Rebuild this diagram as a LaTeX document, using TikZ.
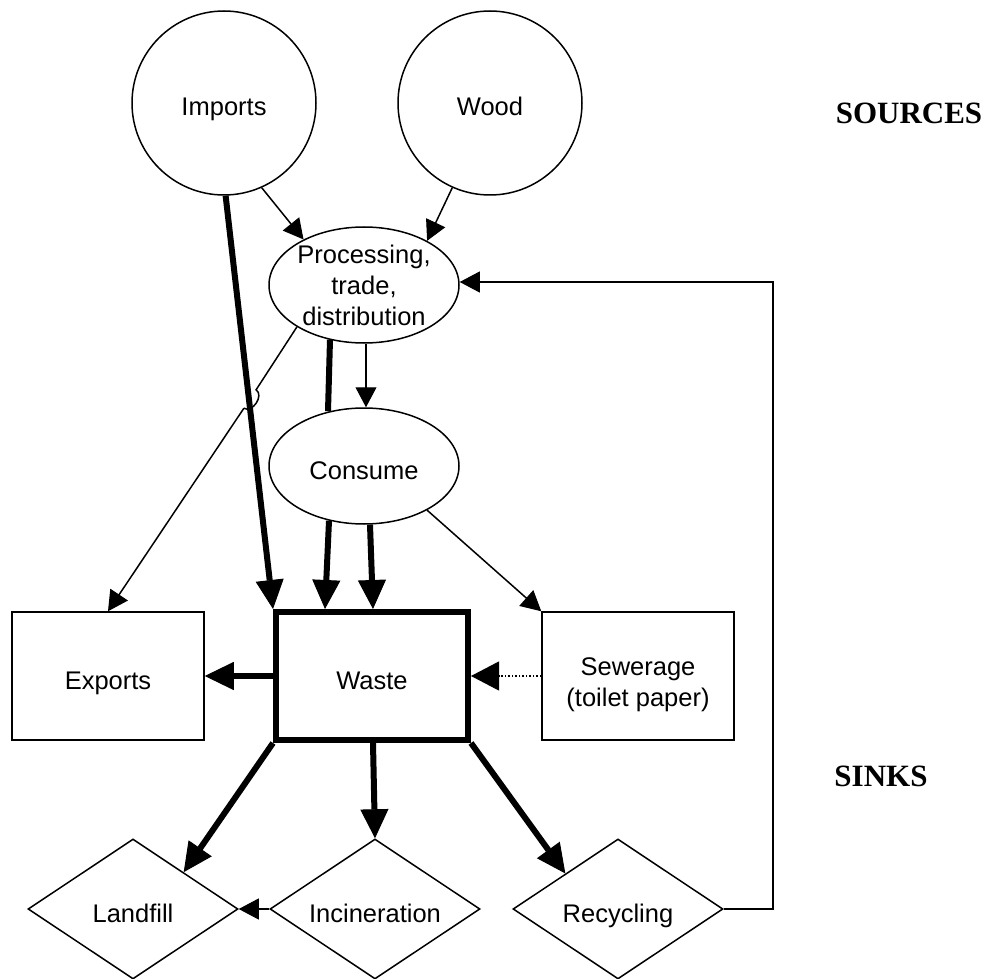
\documentclass[tikz,border=0pt]{standalone}
\usepackage{fontspec}
\setmainfont{Liberation Sans}
\newfontfamily\timesfont{Liberation Serif}
\usetikzlibrary{shapes.geometric,arrows.meta,calc}
\begin{document}
\begin{tikzpicture}[x=1pt,y=-1pt,
  every node/.style={font=\fontsize{25.5}{31}\selectfont, align=center, inner sep=0pt},
  one/.style={text height=31pt, text depth=5pt},
  box/.style={draw, line width=1.5pt, minimum width=192pt, minimum height=128pt},
  src/.style={draw, circle, line width=1.5pt, minimum size=184pt, one},
  ell/.style={draw, ellipse, line width=1.5pt, minimum width=190pt, minimum height=116pt},
  dia/.style={draw, diamond, shape aspect=1.5, line width=1.5pt, minimum width=210pt, minimum height=140pt, one},
  thinarr/.style={line width=1.5pt, -{Triangle[length=20pt,width=21pt,line width=1pt]}},
  thickarr/.style={line width=6pt, -{Triangle[length=29pt,width=28pt,line width=1pt]}},
  thickline/.style={line width=6pt},
  thinline/.style={line width=1.5pt},
  dotarr/.style={line width=1.5pt, dash pattern=on 1.5pt off 2pt, -{Triangle[length=28pt,width=29pt,line width=1pt]}},
  lbl/.style={font=\timesfont\bfseries\fontsize{31}{36}\selectfont}
]
\useasboundingbox (0,0) rectangle (989,979);

% nodes
\node[src] (imports) at (224,103) {Imports};
\node[src] (wood) at (490,103) {Wood};
\node[lbl] (sources) at (909,113) {SOURCES};
\node[ell] (proc) at (364,285) {Processing,\\trade,\\distribution};
\node[ell, one] (cons) at (364,466) {Consume};
\node[box, one] (exports) at (108,676) {Exports};
\node[box, one, line width=6pt] (waste) at (372,676) {Waste};
\node[box] (sew) at (638,676) {\rule{0pt}{35pt}Sewerage\\(toilet paper)};
\node[dia] (land) at (133,909) {Landfill};
\node[dia] (inc) at (375,909) {Incineration};
\node[dia] (rec) at (618,909) {Recycling};
\node[lbl] (sinks) at (881,776) {SINKS};

% helper coordinates
\coordinate (hopA) at (256.1,389.8);
\coordinate (hopB) at (243.9,408.2);
\coordinate (fb) at (773,282);

% sources to processing
\draw[thinarr] (imports.-66) -- (proc.143);
\draw[thinarr] (wood.-114) -- (proc.35);
% imports straight to waste
\draw[thickarr] (imports.-89) -- (waste.north west);
% processing to consume
\draw[thickline] ($(proc.south)+(-34,-4)$) -- ($(cons.north)+(-36,4)$);
\draw[thinarr] ($(proc.south)+(2,0)$) -- ($(cons.north)+(2,0)$);
% processing to exports with hop
\draw[thinline] (proc.212) -- (hopA) .. controls (264.4,395.3) and (252.2,413.7) .. (hopB);
\draw[thinarr] (hopB) -- (exports.north);
% consume to waste
\draw[thickarr] ($(cons.south)+(-35,-4)$) -- ($(waste.north)+(-47,0)$);
\draw[thickarr] ($(cons.south)+(6,0)$) -- ($(waste.north)+(1,0)$);
% consume to sewerage
\draw[thinarr] (cons.-35) -- (sew.north west);
% waste to exports
\draw[thickarr] (waste.west) -- (exports.east);
% sewerage to waste
\draw[dotarr] (sew.west) -- (waste.east);
% waste to sinks
\draw[thickarr] (waste.south west) -- (land.36);
\draw[thickarr] ($(waste.south)+(1,0)$) -- (inc.north);
\draw[thickarr] (waste.south east) -- (rec.146);
% incineration to landfill
\draw[thinarr] (inc.west) -- (land.east);
% recycling feedback
\draw[thinarr] (rec.east) -| (fb) -- (proc.east |- fb);
\end{tikzpicture}
\end{document}
